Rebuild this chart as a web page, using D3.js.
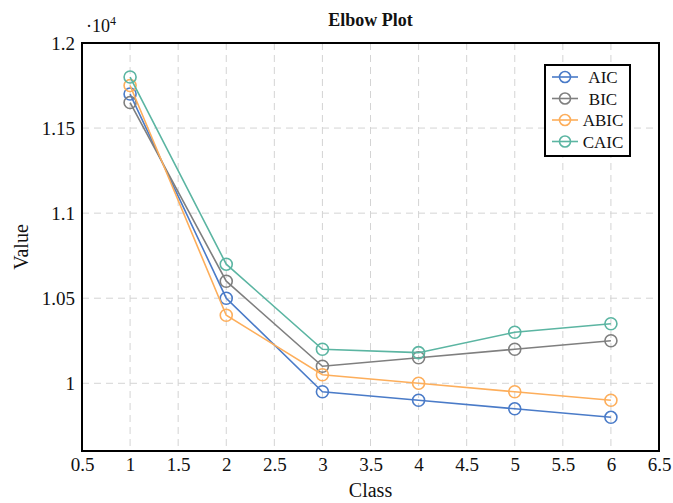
<!DOCTYPE html>
<html>
<head>
<meta charset="utf-8">
<script src="https://cdn.jsdelivr.net/npm/d3@7"></script>
<style>
  body { margin: 0; background: #fff; }
  text { font-family: "Liberation Serif", "DejaVu Serif", serif; }
</style>
</head>
<body>
<svg id="Vis" width="673" height="503"></svg>
<script>
// data (values are x10^4)
var classes = [1, 2, 3, 4, 5, 6];
var aic  = [1.170, 1.050, 0.995, 0.990, 0.985, 0.980];
var bic  = [1.165, 1.060, 1.010, 1.015, 1.020, 1.025];
var abic = [1.175, 1.040, 1.005, 1.000, 0.995, 0.990];
var caic = [1.180, 1.070, 1.020, 1.018, 1.030, 1.035];
var seriesNames = ["AIC", "BIC", "ABIC", "CAIC"];
var seriesColors = ["#4a7bc8", "#7f7f7f", "#fdae5b", "#5bb5a2"];
var xTicks = [0.5, 1, 1.5, 2, 2.5, 3, 3.5, 4, 4.5, 5, 5.5, 6, 6.5];
var yTicks = [1, 1.05, 1.1, 1.15, 1.2];

var svg = d3.select("#Vis");
var plotL = 82, plotR = 659, plotT = 43, plotB = 451;

var x = d3.scaleLinear().domain([0.5, 6.5]).range([plotL, plotR]);
var y = d3.scaleLinear().domain([0.9602, 1.2]).range([plotB, plotT]);

// grid
svg.append("g").selectAll("line")
   .data(xTicks.slice(1, -1))
   .enter().append("line")
   .attr("x1", function(d){ return x(d); })
   .attr("x2", function(d){ return x(d); })
   .attr("y1", plotT).attr("y2", plotB)
   .attr("stroke", "#d4d4d4").attr("stroke-width", 1)
   .attr("stroke-dasharray", "7,5");

svg.append("g").selectAll("line")
   .data(yTicks.slice(0, -1))
   .enter().append("line")
   .attr("y1", function(d){ return y(d); })
   .attr("y2", function(d){ return y(d); })
   .attr("x1", plotL).attr("x2", plotR)
   .attr("stroke", "#d4d4d4").attr("stroke-width", 1)
   .attr("stroke-dasharray", "7,5");

// axes (labels only)
var fmt = function(d){ return d3.format("~g")(d); };
var xAxis = svg.append("g")
   .attr("transform", "translate(0," + plotB + ")")
   .call(d3.axisBottom(x).tickValues(xTicks).tickFormat(fmt).tickSize(0).tickPadding(7));
var yAxis = svg.append("g")
   .attr("transform", "translate(" + plotL + ",0)")
   .call(d3.axisLeft(y).tickValues(yTicks).tickFormat(fmt).tickSize(0).tickPadding(7));
[xAxis, yAxis].forEach(function(a){
  a.select(".domain").remove();
  a.selectAll("text").attr("font-family", "Liberation Serif, serif")
   .attr("font-size", 19).attr("fill", "#111");
});

// series
var allSeries = [aic, bic, abic, caic];
var line = d3.line()
   .x(function(d, i){ return x(classes[i]); })
   .y(function(d){ return y(d); });

allSeries.forEach(function(vals, s){
  var g = svg.append("g");
  g.append("path")
   .datum(vals)
   .attr("d", line)
   .attr("fill", "none")
   .attr("stroke", seriesColors[s])
   .attr("stroke-width", 1.6);
  g.selectAll("circle")
   .data(vals)
   .enter().append("circle")
   .attr("cx", function(d, i){ return x(classes[i]); })
   .attr("cy", function(d){ return y(d); })
   .attr("r", 6)
   .attr("fill", "none")
   .attr("stroke", seriesColors[s])
   .attr("stroke-width", 1.6);
});

// frame
svg.append("rect")
   .attr("x", plotL).attr("y", plotT)
   .attr("width", plotR - plotL).attr("height", plotB - plotT)
   .attr("fill", "none").attr("stroke", "#000").attr("stroke-width", 2);

// legend
var lg = svg.append("g").attr("transform", "translate(545,65)");
lg.append("rect").attr("width", 85).attr("height", 91)
  .attr("fill", "#fff").attr("stroke", "#000").attr("stroke-width", 2);
seriesNames.forEach(function(name, i){
  var yy = 12 + i * 21.5;
  lg.append("line").attr("x1", 7).attr("x2", 33).attr("y1", yy).attr("y2", yy)
    .attr("stroke", seriesColors[i]).attr("stroke-width", 1.6);
  lg.append("circle").attr("cx", 20).attr("cy", yy).attr("r", 5.5)
    .attr("fill", "none").attr("stroke", seriesColors[i]).attr("stroke-width", 1.6);
  lg.append("text").attr("x", 58).attr("y", yy + 6).attr("text-anchor", "middle")
    .attr("font-size", 17).attr("fill", "#111").text(name);
});

// titles
svg.append("text").attr("x", (plotL + plotR) / 2).attr("y", 26)
   .attr("text-anchor", "middle").attr("font-weight", "bold")
   .attr("font-size", 18).attr("fill", "#111").text("Elbow Plot");
svg.append("text").attr("x", (plotL + plotR) / 2).attr("y", 497)
   .attr("text-anchor", "middle").attr("font-size", 20).attr("fill", "#111").text("Class");
svg.append("text")
   .attr("transform", "translate(28," + ((plotT + plotB) / 2) + ") rotate(-90)")
   .attr("text-anchor", "middle").attr("font-size", 20).attr("fill", "#111").text("Value");
var mult = svg.append("text").attr("x", 86).attr("y", 32)
   .attr("font-size", 18).attr("fill", "#111");
mult.append("tspan").text("\u00b710");
mult.append("tspan").attr("font-size", 12).attr("dy", -7).text("4");
</script>
</body>
</html>
